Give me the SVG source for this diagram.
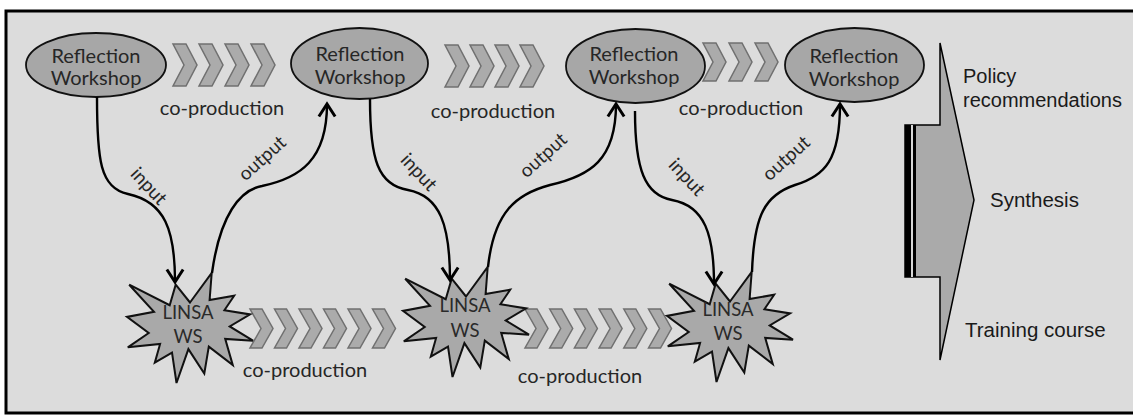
<svg xmlns="http://www.w3.org/2000/svg" width="1137" height="415" viewBox="0 0 1137 415">
<style>
.bg{fill:#dcdcdc}
.frame{stroke:#000;stroke-width:3;fill:none}
.ell{fill:#a7a7a7;stroke:#111;stroke-width:1.8}
.star{fill:#a9a9a9;stroke:#111;stroke-width:2}
.chev{fill:#ababab;stroke:#707070;stroke-width:1.5;stroke-linejoin:miter}
.lbl{font-family:Lato,"Open Sans",sans-serif;font-size:20px;fill:#262626;text-anchor:middle}
.slbl{font-family:Lato,"Open Sans",sans-serif;font-size:18.5px;fill:#2a2a2a;text-anchor:middle}
.alb{font-family:Lato,"Open Sans",sans-serif;font-size:19px;fill:#262626;text-anchor:middle}
.rt{font-family:"Liberation Sans",Arial,sans-serif;font-size:20.5px;fill:#1a1a1a}
.conn{fill:none;stroke:#000;stroke-width:2.4;marker-end:url(#ah)}
</style>
<defs>
<marker id="ah" markerUnits="userSpaceOnUse" markerWidth="20" markerHeight="20" refX="0" refY="0" viewBox="-12 -8 14 16" orient="auto" overflow="visible">
<path d="M-10,-6.5 L0,0 L-10,6.5" fill="none" stroke="#000" stroke-width="2.4"/>
</marker>
<path id="chT" d="M0,0 L13,0 L24,21 L13,42 L0,42 L11,21 Z"/>
<path id="chS" d="M0,0 L13,0 L23,19 L13,38 L0,38 L10,19 Z"/>
<path id="chB" d="M0,0 L12,0 L23,19.5 L12,39 L0,39 L11,19.5 Z"/>
<path id="seal" d="M63,29.5 L84.7,0 L82.6,27.1 L107.2,22.7 L97.4,37.3 L123.1,41.4 L102.7,53.4 L126,67.7 L98.2,65.9 L105.8,92.1 L81.8,73.6 L77.3,100.5 L61.4,76.1 L49.5,110 L45,79.6 L27.8,89.7 L33.1,71 L0.8,74.3 L21.7,60 L0,43.9 L27,38.8 L2.2,11.7 L42.7,32.2 L48.7,11.7 Z"/>
</defs>
<rect x="0" y="0" width="1137" height="415" fill="#ffffff"/>
<rect class="bg" x="6" y="11" width="1127" height="402"/>
<path class="frame" d="M1133,11 L6,11 L6,413 L1133,413"/>

<g id="coprod-top-1">
<use href="#chT" class="chev" x="173" y="44"/>
<use href="#chT" class="chev" x="199" y="44"/>
<use href="#chT" class="chev" x="225" y="44"/>
<use href="#chT" class="chev" x="251" y="44"/>
<text class="lbl" x="222" y="115">co-production</text>
</g>
<g id="coprod-top-2">
<use href="#chT" class="chev" x="445" y="45"/>
<use href="#chT" class="chev" x="470" y="45"/>
<use href="#chT" class="chev" x="495" y="45"/>
<use href="#chT" class="chev" x="520" y="45"/>
<text class="lbl" x="493" y="118">co-production</text>
</g>
<g id="coprod-top-3">
<use href="#chS" class="chev" x="703" y="43"/>
<use href="#chS" class="chev" x="729" y="43"/>
<use href="#chS" class="chev" x="755" y="43"/>
<text class="lbl" x="741" y="115">co-production</text>
</g>
<g id="coprod-bottom-1">
<use href="#chB" class="chev" x="250" y="309"/>
<use href="#chB" class="chev" x="274.5" y="309"/>
<use href="#chB" class="chev" x="299" y="309"/>
<use href="#chB" class="chev" x="323.5" y="309"/>
<use href="#chB" class="chev" x="348" y="309"/>
<use href="#chB" class="chev" x="372.5" y="309"/>
<text class="lbl" x="305" y="377">co-production</text>
</g>
<g id="coprod-bottom-2">
<use href="#chB" class="chev" x="525" y="309"/>
<use href="#chB" class="chev" x="549.7" y="309"/>
<use href="#chB" class="chev" x="574.4" y="309"/>
<use href="#chB" class="chev" x="599.1" y="309"/>
<use href="#chB" class="chev" x="623.8" y="309"/>
<use href="#chB" class="chev" x="648.5" y="309"/>
<text class="lbl" x="580" y="383">co-production</text>
</g>

<g id="rw1">
<ellipse class="ell" cx="96" cy="65" rx="70" ry="32"/>
<text class="lbl" x="96" y="63">Reflection</text>
<text class="lbl" x="96" y="85">Workshop</text>
</g>
<g id="rw2">
<ellipse class="ell" cx="359.5" cy="63.5" rx="68.5" ry="35.5"/>
<text class="lbl" x="360" y="61">Reflection</text>
<text class="lbl" x="360" y="84">Workshop</text>
</g>
<g id="rw3">
<ellipse class="ell" cx="635.5" cy="66" rx="69.5" ry="37"/>
<text class="lbl" x="634" y="61">Reflection</text>
<text class="lbl" x="634" y="84">Workshop</text>
</g>
<g id="rw4">
<ellipse class="ell" cx="854.5" cy="65" rx="69.5" ry="37"/>
<text class="lbl" x="854" y="63">Reflection</text>
<text class="lbl" x="854" y="86">Workshop</text>
</g>

<g id="linsa1">
<use href="#seal" class="star" x="127" y="273"/>
<text class="slbl" x="188" y="319">LINSA</text>
<text class="slbl" x="188" y="343">WS</text>
</g>
<g id="linsa2">
<use href="#seal" class="star" x="403" y="267"/>
<text class="slbl" x="465" y="312">LINSA</text>
<text class="slbl" x="465" y="337">WS</text>
</g>
<g id="linsa3">
<use href="#seal" class="star" x="667" y="272"/>
<text class="slbl" x="728" y="316">LINSA</text>
<text class="slbl" x="728" y="340">WS</text>
</g>

<g id="synthesis">
<path d="M905,125 L940,125 L940,43 L974,200 L940,360 L940,277 L905,277 Z" fill="#aaaaaa" stroke="#000" stroke-width="1.5"/>
<rect x="905" y="125" width="6" height="152" fill="#000"/>
<rect x="911" y="125" width="2" height="152" fill="#d8d8d8"/>
<rect x="913" y="125" width="3" height="152" fill="#000"/>
<text class="rt" x="963" y="83" style="font-size:20px">Policy</text>
<text class="rt" x="963" y="107" style="font-size:20px">recommendations</text>
<text class="rt" x="990" y="207">Synthesis</text>
<text class="rt" x="965" y="337">Training course</text>
</g>

<g id="connectors">
<path class="conn" d="M97,97 C97,160 100,188 128,194 C165,202 175,230 175,282"/>
<path class="conn" d="M212,273 C220,215 240,190 262,186 C300,178 327,160 327,104"/>
<path class="conn" d="M370,99 C370,160 378,185 408,190 C440,196 450,225 450,280"/>
<path class="conn" d="M488,267 C494,212 516,194 550,185 C590,176 616,160 616,104"/>
<path class="conn" d="M635,111 C635,170 645,195 672,200 C705,206 714,235 714,284"/>
<path class="conn" d="M752,272 C754,215 765,195 795,185 C825,176 840,160 840,104"/>
<text class="alb" transform="translate(149,186) rotate(47)" dy="0.35em">input</text>
<text class="alb" transform="translate(419,172) rotate(47)" dy="0.35em">input</text>
<text class="alb" transform="translate(687,177) rotate(47)" dy="0.35em">input</text>
<text class="alb" transform="translate(262,158) rotate(-42)" dy="0.35em">output</text>
<text class="alb" transform="translate(543,155) rotate(-42)" dy="0.35em">output</text>
<text class="alb" transform="translate(786,158) rotate(-42)" dy="0.35em">output</text>
</g>
</svg>
